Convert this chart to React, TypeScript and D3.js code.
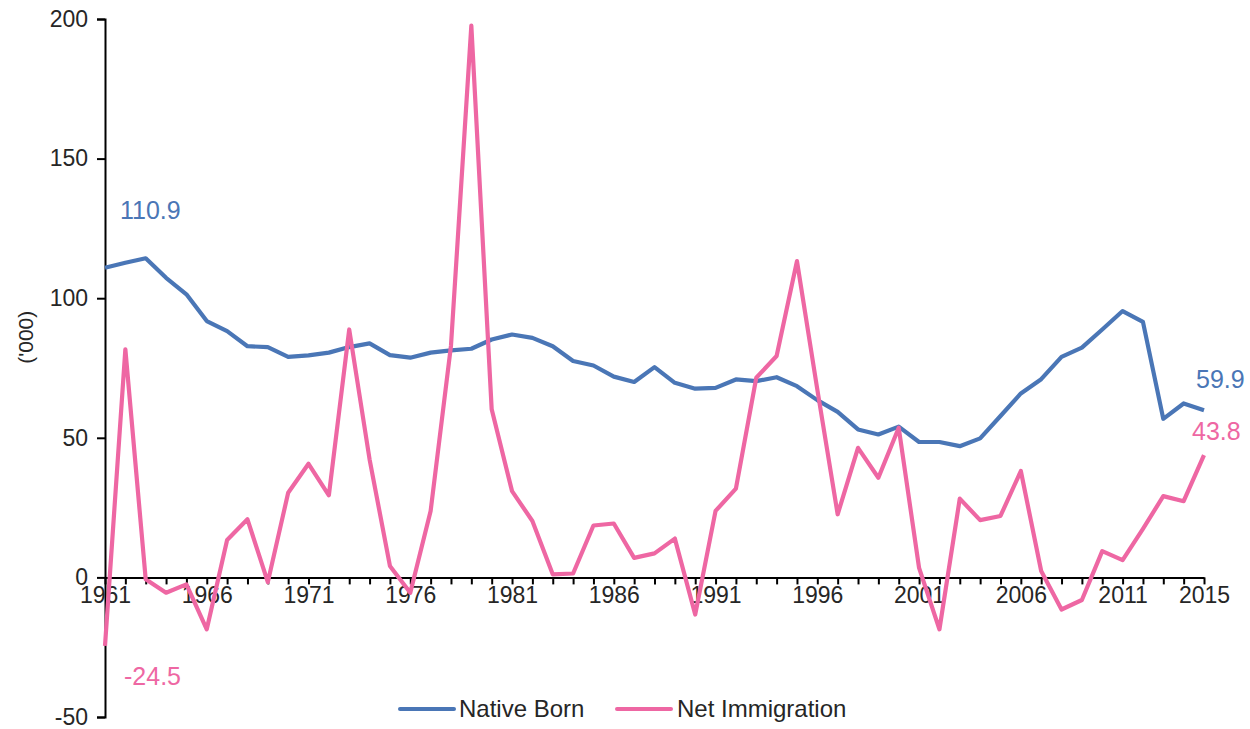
import React, { useEffect, useRef } from "react";
import * as d3 from "d3";

const years: number[] = d3.range(1961, 2016);

const nativeBorn: number[] = [
  110.9, 112.7, 114.3, 107.3, 101.4, 91.8, 88.2, 82.8, 82.5, 79.0,
  79.5, 80.5, 82.5, 83.8, 79.6, 78.7, 80.5, 81.3, 81.9, 85.2,
  87.0, 85.8, 82.8, 77.5, 75.9, 71.9, 70.0, 75.3, 69.7, 67.6,
  67.9, 70.9, 70.3, 71.7, 68.5, 63.5, 59.3, 53.0, 51.2, 54.0,
  48.5, 48.5, 47.0, 49.8, 57.8, 65.9, 71.0, 79.0, 82.3, 88.8,
  95.4, 91.5, 56.8, 62.3, 59.9,
];

const netImmigration: number[] = [
  -24.5, 81.7, -0.7, -5.5, -2.5, -18.6, 13.4, 20.8, -1.7, 30.3,
  40.7, 29.4, 88.8, 42.3, 4.1, -5.5, 23.8, 83.0, 197.6, 60.2,
  30.9, 20.2, 1.1, 1.4, 18.6, 19.3, 7.0, 8.6, 13.9, -13.3,
  23.8, 31.8, 71.5, 79.3, 113.3, 67.3, 22.6, 46.4, 35.7, 53.6,
  3.4, -18.6, 28.2, 20.5, 22.0, 38.1, 2.3, -11.5, -8.1, 9.4,
  6.2, 17.4, 29.1, 27.3, 43.8,
];

const yTicks: number[] = [-50, 0, 50, 100, 150, 200];
const xTickLabels: number[] = [1961, 1966, 1971, 1976, 1981, 1986, 1991, 1996, 2001, 2006, 2011, 2015];

const seriesNames: string[] = ["Native Born", "Net Immigration"];
const colors: string[] = ["#4A76B6", "#EE67A3"];

export default function App() {
  const ref = useRef<SVGSVGElement | null>(null);

  useEffect(() => {
    const svg = d3.select(ref.current);
    svg.selectAll("*").remove();

    const W = 1250, H = 729;
    const left = 105, right = 1204, top = 19, bottom = 717;
    const font = "'Liberation Sans', Arial, sans-serif";
    const textColor = "#262626";

    const x = d3.scaleLinear().domain([1961, 2015]).range([left, right]);
    const y = d3.scaleLinear().domain([-50, 200]).range([bottom, top]);

    svg.attr("width", W).attr("height", H);

    // Y axis
    const yAxis = svg.append("g").attr("transform", `translate(${left},0)`)
      .call(d3.axisLeft(y).tickValues(yTicks).tickSize(8).tickPadding(9).tickFormat((d: any) => String(d)));
    yAxis.select(".domain").attr("stroke", "#000").attr("stroke-width", 2);
    yAxis.selectAll(".tick line").attr("stroke", "#000").attr("stroke-width", 2);
    yAxis.selectAll(".tick text").attr("font-family", font).attr("font-size", 23).attr("fill", textColor);

    // X axis at y=0
    const xAxis = svg.append("g").attr("transform", `translate(0,${y(0)})`)
      .call(d3.axisBottom(x).tickValues(years).tickSize(7).tickSizeOuter(0).tickPadding(2)
        .tickFormat((d: any) => (xTickLabels.includes(d) ? String(d) : "")));
    xAxis.select(".domain").attr("stroke", "#000").attr("stroke-width", 2);
    xAxis.selectAll(".tick line").attr("stroke", "#000").attr("stroke-width", 2);
    xAxis.selectAll(".tick text").attr("font-family", font).attr("font-size", 23).attr("fill", textColor);

    // Y label
    svg.append("text")
      .attr("transform", `translate(33,${y(86)}) rotate(-90)`)
      .attr("text-anchor", "middle")
      .attr("font-family", font).attr("font-size", 21).attr("fill", textColor)
      .text("('000)");

    const line = d3.line<number>().x((_, i) => x(years[i])).y((d) => y(d));

    [nativeBorn, netImmigration].forEach((s, i) => {
      svg.append("path").datum(s)
        .attr("d", line as any)
        .attr("fill", "none")
        .attr("stroke", colors[i])
        .attr("stroke-width", 4.2)
        .attr("stroke-linejoin", "round");
    });

    // data labels
    const fmt = (v: number) => v.toFixed(1);
    const labels = [
      { v: nativeBorn[0], yr: 1961, c: colors[0], dx: 15, yv: 131.5 },
      { v: netImmigration[0], yr: 1961, c: colors[1], dx: 19, yv: -35.5 },
      { v: nativeBorn[nativeBorn.length - 1], yr: 2015, c: colors[0], dx: -8, yv: 70.8 },
      { v: netImmigration[netImmigration.length - 1], yr: 2015, c: colors[1], dx: -12, yv: 52.2 },
    ];
    labels.forEach((l) => {
      svg.append("text")
        .attr("x", x(l.yr) + l.dx)
        .attr("y", y(l.yv))
        .attr("dy", "0.35em")
        .attr("font-family", font).attr("font-size", 25).attr("fill", l.c)
        .text(fmt(l.v));
    });

    // legend
    const legendItems = [
      { x0: 400, tx: 459 },
      { x0: 617, tx: 677 },
    ];
    legendItems.forEach((it, i) => {
      svg.append("line")
        .attr("x1", it.x0).attr("x2", it.x0 + 54)
        .attr("y1", 709).attr("y2", 709)
        .attr("stroke", colors[i]).attr("stroke-width", 4).attr("stroke-linecap", "round");
      svg.append("text")
        .attr("x", it.tx).attr("y", 709).attr("dy", "0.35em")
        .attr("font-family", font).attr("font-size", 24).attr("fill", textColor)
        .text(seriesNames[i]);
    });
  }, []);

  return (
    <div style={{ position: "absolute", left: 0, top: 0, width: 1250, height: 729, background: "#fff" }}>
      <svg ref={ref} />
    </div>
  );
}
